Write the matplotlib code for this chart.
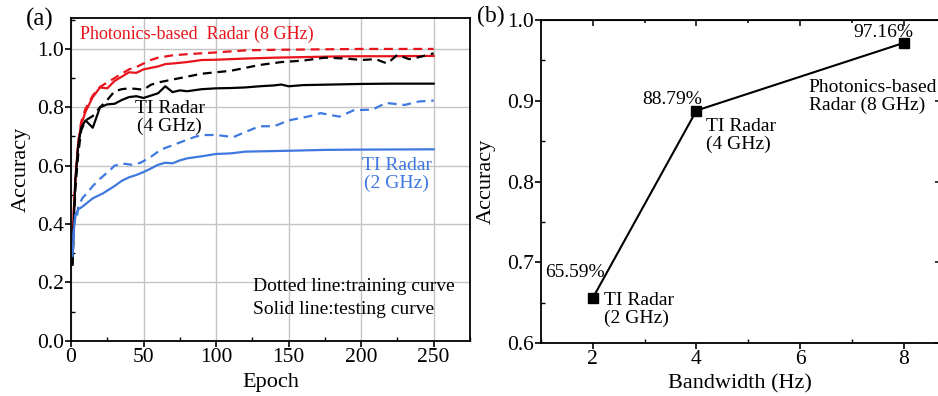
import numpy as np
import matplotlib.pyplot as plt
from matplotlib.ticker import MultipleLocator

plt.rcParams['font.family'] = ['Liberation Serif', 'DejaVu Serif']
plt.rcParams['font.size'] = 14

RED = '#e8141c'
BLUE = '#3f78e0'

# ---- panel (a): training / testing curves
ep_red_test = [1, 2, 3, 5, 7, 10, 15, 20, 25, 30, 35, 40, 45, 50, 55, 60, 65, 70, 80, 90,
               100, 120, 140, 160, 180, 200, 220, 250]
acc_red_test = [0.34, 0.45, 0.55, 0.68, 0.74, 0.785, 0.835, 0.868, 0.865, 0.89, 0.905, 0.92,
                0.918, 0.93, 0.935, 0.94, 0.948, 0.95, 0.955, 0.962, 0.963, 0.967, 0.97,
                0.972, 0.974, 0.975, 0.975, 0.976]

ep_red_train = [1, 2, 3, 5, 7, 10, 15, 20, 25, 30, 35, 40, 45, 50, 55, 60, 70, 80, 90, 100,
                120, 140, 160, 200, 250]
acc_red_train = [0.33, 0.45, 0.56, 0.68, 0.75, 0.795, 0.84, 0.87, 0.885, 0.9, 0.915, 0.93,
                 0.938, 0.95, 0.962, 0.97, 0.978, 0.982, 0.985, 0.988, 0.995, 0.997, 0.998,
                 1.0, 1.0]

ep_blk_test = [1, 2, 3, 5, 7, 10, 15, 20, 25, 30, 35, 40, 45, 50, 55, 60, 65, 70, 75, 80,
               90, 100, 110, 120, 130, 140, 145, 150, 160, 180, 200, 220, 250]
acc_blk_test = [0.26, 0.42, 0.55, 0.67, 0.73, 0.755, 0.73, 0.8, 0.81, 0.812, 0.825, 0.835,
                0.838, 0.832, 0.84, 0.848, 0.872, 0.852, 0.858, 0.855, 0.862, 0.865, 0.866,
                0.868, 0.872, 0.875, 0.878, 0.872, 0.876, 0.878, 0.88, 0.881, 0.881]

ep_blk_train = [1, 2, 3, 5, 7, 10, 15, 20, 25, 30, 35, 40, 45, 50, 55, 60, 70, 80, 90, 100,
                110, 120, 130, 145, 160, 175, 190, 200, 210, 218, 225, 233, 240, 250]
acc_blk_train = [0.26, 0.4, 0.52, 0.64, 0.72, 0.755, 0.77, 0.8, 0.825, 0.855, 0.862, 0.865,
                 0.863, 0.86, 0.877, 0.885, 0.895, 0.905, 0.915, 0.92, 0.925, 0.935, 0.945,
                 0.955, 0.96, 0.97, 0.967, 0.962, 0.965, 0.95, 0.98, 0.965, 0.972, 0.985]

ep_blu_test = [1, 2, 3, 5, 8, 15, 22, 30, 35, 40, 45, 50, 55, 60, 65, 70, 75, 80, 90, 100,
               110, 120, 150, 175, 200, 250]
acc_blu_test = [0.29, 0.38, 0.43, 0.45, 0.46, 0.488, 0.505, 0.53, 0.548, 0.56, 0.568, 0.578,
                0.59, 0.603, 0.61, 0.608, 0.618, 0.625, 0.632, 0.64, 0.642, 0.648, 0.651,
                0.654, 0.655, 0.656]

ep_blu_train = [1, 2, 3, 4, 5, 8, 11, 15, 20, 27, 30, 36, 42, 48, 55, 62, 70, 78, 85, 90,
                100, 112, 120, 130, 140, 150, 165, 172, 185, 195, 208, 217, 230, 240, 250]
acc_blu_train = [0.3, 0.38, 0.43, 0.42, 0.46, 0.49, 0.505, 0.53, 0.555, 0.585, 0.6, 0.607,
                 0.603, 0.61, 0.63, 0.655, 0.67, 0.685, 0.698, 0.705, 0.705, 0.698, 0.715,
                 0.735, 0.735, 0.755, 0.77, 0.78, 0.768, 0.79, 0.792, 0.815, 0.808, 0.82,
                 0.823]

# ---- panel (b): final accuracy vs bandwidth
bandwidth = [2, 4, 8]
final_acc = [0.6559, 0.8879, 0.9716]
pct_labels = ['65.59%', '88.79%', '97.16%']

fig = plt.figure(figsize=(9.38, 3.96), dpi=100)

# Panel (a)
ax = fig.add_axes([0.0757, 0.1396, 0.4253, 0.8142])
dash = (0, (4, 2.6))
ax.plot(ep_red_train, acc_red_train, color=RED, lw=1.6, ls=dash)
ax.plot(ep_red_test, acc_red_test, color=RED, lw=1.6)
ax.plot(ep_blk_train, acc_blk_train, color='k', lw=1.6, ls=dash)
ax.plot(ep_blk_test, acc_blk_test, color='k', lw=1.6)
ax.plot(ep_blu_train, acc_blu_train, color=BLUE, lw=1.6, ls=dash)
ax.plot(ep_blu_test, acc_blu_test, color=BLUE, lw=1.6)

ax.set_xlim(0, 275)
ax.set_ylim(0, 1.105)
ax.xaxis.set_major_locator(MultipleLocator(50))
ax.xaxis.set_minor_locator(MultipleLocator(25))
ax.yaxis.set_major_locator(MultipleLocator(0.2))
ax.yaxis.set_minor_locator(MultipleLocator(0.1))
ax.yaxis.set_major_formatter(plt.FormatStrFormatter('%.1f'))
ax.tick_params(which='major', direction='out', length=4, width=1.2, labelsize=15.5, pad=1)
ax.tick_params(which='minor', direction='in', length=3, width=1)
ax.grid(True, which='major', color='#c4c4c4', lw=1)
ax.set_axisbelow(True)
for s in ax.spines.values():
    s.set_linewidth(1.3)
ax.set_xlabel('Epoch', fontsize=16)
ax.set_ylabel('Accuracy', fontsize=16)
ax.xaxis.set_label_coords(0.5, -0.100)
ax.yaxis.set_label_coords(-0.100, 0.53)

ax.text(6.2, 1.051, 'Photonics-based  Radar (8 GHz)', color=RED, fontsize=13,
        ha='left', va='center')
ax.text(68, 0.765, 'TI Radar\n(4 GHz)', color='k', fontsize=14, ha='center', va='center',
        linespacing=1.05)
ax.text(224.5, 0.568, 'TI Radar\n(2 GHz)', color=BLUE, fontsize=14, ha='center',
        va='center', linespacing=1.05)
ax.text(125.3, 0.1875, 'Dotted line:training curve', fontsize=14, ha='left', va='center')
ax.text(125.3, 0.1075, 'Solid line:testing curve', fontsize=14, ha='left', va='center')
fig.text(40 / 938, 1 - 19 / 396, '(a)', fontsize=18, ha='center', va='center')

# Panel (b)
bx = fig.add_axes([0.5768, 0.1338, 0.4264, 0.8157])
bx.plot(bandwidth, final_acc, color='k', lw=1.5, marker='s', ms=7, mfc='k', mec='k')
bx.set_xlim(1, 8.72)
bx.set_ylim(0.6, 1.0)
bx.xaxis.set_major_locator(MultipleLocator(2))
bx.xaxis.set_minor_locator(MultipleLocator(1))
bx.yaxis.set_major_locator(MultipleLocator(0.1))
bx.yaxis.set_minor_locator(MultipleLocator(0.05))
bx.tick_params(which='major', direction='out', length=4, width=1.2, labelsize=15.5, pad=1)
bx.tick_params(which='minor', direction='in', length=3, width=1)
for s in bx.spines.values():
    s.set_linewidth(1.3)
top = bx.secondary_xaxis('top')
top.xaxis.set_major_locator(MultipleLocator(2))
top.xaxis.set_minor_locator(MultipleLocator(1))
top.tick_params(which='both', direction='in', labeltop=False, width=1.1)
top.tick_params(which='major', length=4)
top.tick_params(which='minor', length=2.5)
right = bx.secondary_yaxis('right')
right.yaxis.set_major_locator(MultipleLocator(0.1))
right.yaxis.set_minor_locator(MultipleLocator(0.05))
right.tick_params(which='both', direction='in', labelright=False, width=1.1)
right.tick_params(which='major', length=4)
right.tick_params(which='minor', length=2.5)
bx.set_xlabel('Bandwidth (Hz)', fontsize=16)
bx.set_ylabel('Accuracy', fontsize=16)
bx.xaxis.set_label_coords(0.4975, -0.098)
bx.yaxis.set_label_coords(-0.1125, 0.5)

bx.text(1.66, 0.687, pct_labels[0], fontsize=14, ha='center', va='center')
bx.text(3.53, 0.901, pct_labels[1], fontsize=14, ha='center', va='center')
bx.text(7.6, 0.984, pct_labels[2], fontsize=14, ha='center', va='center')
bx.text(2.22, 0.642, 'TI Radar\n(2 GHz)', fontsize=14, ha='left', va='center',
        linespacing=1.05)
bx.text(4.19, 0.857, 'TI Radar\n(4 GHz)', fontsize=14, ha='left', va='center',
        linespacing=1.05)
bx.text(6.17, 0.905, 'Photonics-based\nRadar (8 GHz)', fontsize=14, ha='left',
        va='center', linespacing=1.05)
fig.text(491 / 938, 1 - 16 / 396, '(b)', fontsize=17, ha='center', va='center')

fig.savefig('out.png', dpi=100)
